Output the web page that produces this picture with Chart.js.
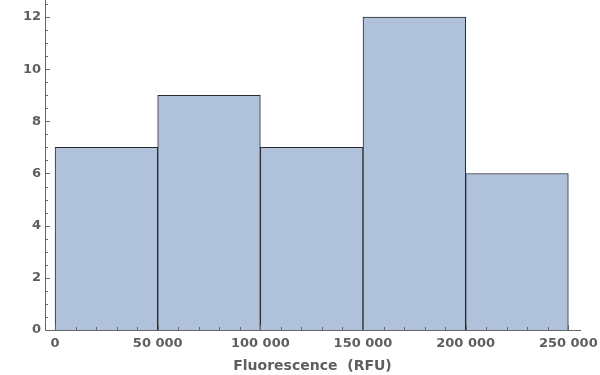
<!DOCTYPE html>
<html>
<head>
<meta charset="utf-8">
<script src="https://cdn.jsdelivr.net/npm/chart.js@4"></script>
<style>
  html, body { margin: 0; padding: 0; background: #fff; }
  #wrap { width: 600px; height: 375px; }
</style>
</head>
<body>
<div id="wrap"><canvas id="chart"></canvas></div>
<script>
// histogram bins (RFU) and counts
const binEdges = [0, 50000, 100000, 150000, 200000, 250000];
const counts = [7, 9, 7, 12, 6];
const xTicks = [0, 50000, 100000, 150000, 200000, 250000];
const yTicks = [0, 2, 4, 6, 8, 10, 12];

const axisColor = '#666666';
const textColor = '#5e5e5e';
const font = { family: 'DejaVu Sans', size: 13, weight: 'bold' };

// bar centres from the bin edges
const points = counts.map((c, i) => ({ x: (binEdges[i] + binEdges[i + 1]) / 2, y: c }));

function fmt(v) {
    return String(v).replace(/\B(?=(\d{3})+(?!\d))/g, ' ');
}

// small inward tick marks like the original frame
const tickPlugin = {
    id: 'inwardTicks',
    afterDraw(chart) {
        const ctx = chart.ctx;
        const xs = chart.scales.x, ys = chart.scales.y;
        const area = chart.chartArea;
        ctx.save();
        ctx.strokeStyle = axisColor;
        ctx.lineWidth = 1;
        ctx.beginPath();
        for (let v = 0; v <= xs.max; v += 10000) {
            const px = Math.round(xs.getPixelForValue(v)) + 0.5;
            const len = v % 50000 === 0 ? 5 : 3;
            ctx.moveTo(px, area.bottom);
            ctx.lineTo(px, area.bottom - len);
        }
        for (let v = 0; v <= ys.max; v += 0.5) {
            const py = Math.round(ys.getPixelForValue(v)) + 0.5;
            const len = v % 2 === 0 ? 5 : 3;
            ctx.moveTo(area.left, py);
            ctx.lineTo(area.left + len, py);
        }
        ctx.stroke();
        ctx.restore();
    }
};

new Chart(document.getElementById('chart'), {
    type: 'bar',
    data: {
        datasets: [{
            data: points,
            backgroundColor: '#b0c1dc',
            borderColor: '#2a2a2a',
            borderWidth: 1,
            barPercentage: 1,
            categoryPercentage: 1
        }]
    },
    options: {
        responsive: true,
        maintainAspectRatio: false,
        animation: false,
        layout: { padding: { top: 0, right: 20, left: 0, bottom: 0 } },
        plugins: { legend: { display: false }, tooltip: { enabled: false } },
        scales: {
            x: {
                type: 'linear',
                offset: false,
                min: -4900,
                max: 255700,
                grid: { display: false, drawTicks: false, offset: false },
                border: { display: true, color: axisColor, width: 1 },
                afterBuildTicks: s => { s.ticks = xTicks.map(v => ({ value: v })); },
                afterFit: s => { s.height = 45; s.paddingLeft = 0; s.paddingRight = 0; },
                ticks: {
                    color: textColor, font: font, padding: 6, maxRotation: 0, autoSkip: false,
                    callback: v => fmt(v)
                },
                title: {
                    display: true, text: 'Fluorescence  (RFU)', color: textColor,
                    font: { family: 'DejaVu Sans', size: 14, weight: 'bold' },
                    padding: { top: 2, bottom: 0 }
                }
            },
            y: {
                min: 0,
                max: 12.65,
                grid: { display: false, drawTicks: false },
                border: { display: true, color: axisColor, width: 1 },
                afterBuildTicks: s => { s.ticks = yTicks.map(v => ({ value: v })); },
                afterFit: s => { s.width = 45; s.paddingTop = 0; s.paddingBottom = 0; },
                ticks: { color: textColor, font: font, padding: 4 }
            }
        }
    },
    plugins: [tickPlugin]
});
</script>
</body>
</html>
